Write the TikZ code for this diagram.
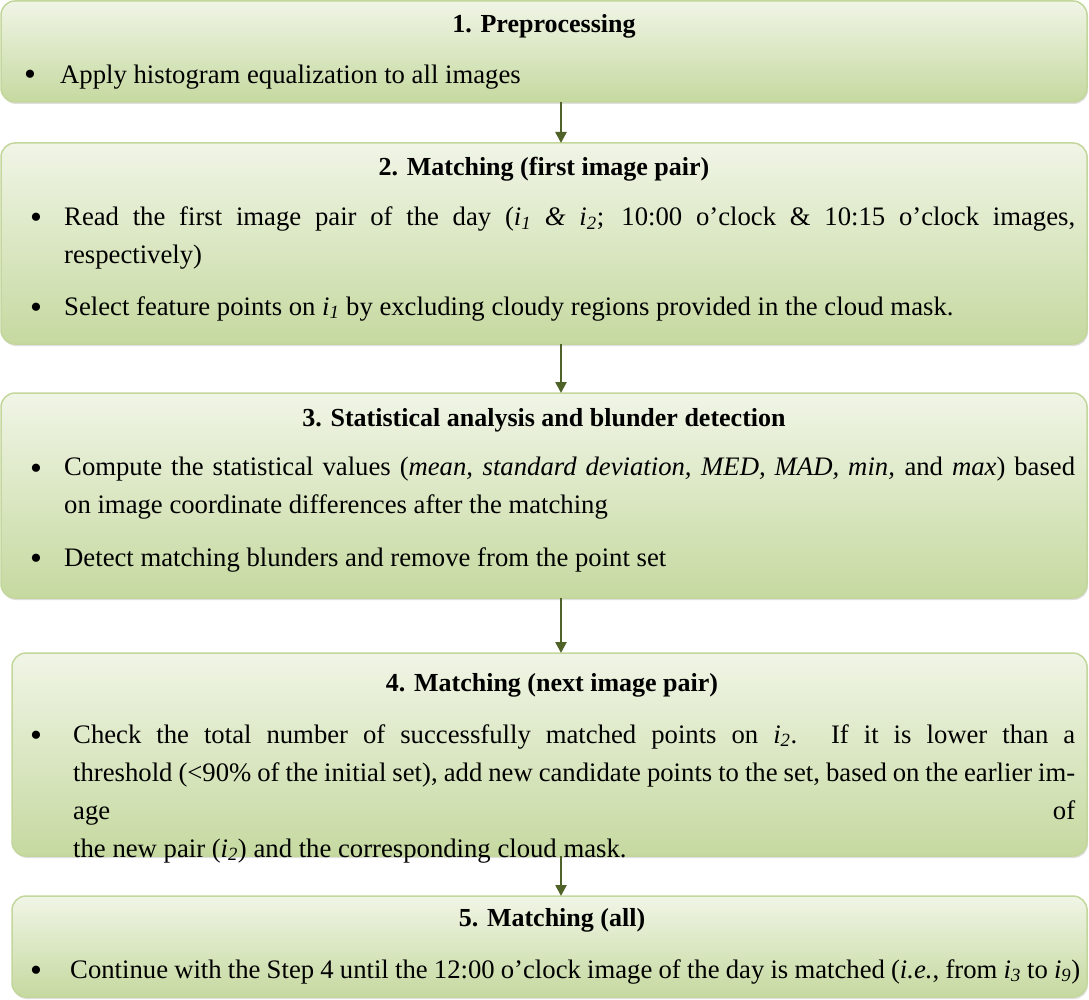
\documentclass[tikz,border=0pt]{standalone}
\usepackage{fontspec}
\setmainfont{Liberation Serif}
\usetikzlibrary{shadows,arrows.meta}
\newcommand{\ii}[1]{\textit{i}\textsubscript{\textit{#1}}}
\definecolor{arrc}{HTML}{4F6228}
\definecolor{topc}{HTML}{F0F5E6}
\definecolor{botc}{HTML}{C6D9A0}
\definecolor{edgec}{HTML}{C3D69B}
\begin{document}
\begin{tikzpicture}[x=1pt,y=-1pt,
  panel/.style={draw=edgec, line width=1.5pt, rounded corners=14pt, top color=topc, bottom color=botc, drop shadow={shadow xshift=1pt, shadow yshift=-2pt, opacity=0.25}},
  ttl/.style={font=\fontsize{26}{38}\selectfont\bfseries, anchor=base},
  txt/.style={font=\fontsize{26.7}{38}\selectfont, anchor=north west, inner sep=0pt, align=justify},
  bul/.style={font=\fontsize{34}{38}\selectfont, anchor=base, inner sep=0pt},
  arr/.style={-{Triangle[length=11pt,width=11pt]}, line width=2.5pt, draw=arrc}]
\useasboundingbox (0,0) rectangle (1089,1000);
\path[panel] (1,1) rectangle (1087,102);
\path[panel] (1,143) rectangle (1087,344);
\path[panel] (1,393) rectangle (1087,598);
\path[panel] (12,653) rectangle (1087,856);
\path[panel] (12,896) rectangle (1087,997);
\coordinate (b1) at (561,102); \coordinate (t2) at (561,143);
\coordinate (b2) at (561,344); \coordinate (t3) at (561,393);
\coordinate (b3) at (561,598); \coordinate (t4) at (561,653);
\coordinate (b4) at (561,856); \coordinate (t5) at (561,896);
\draw[arr] (b1) -- (t2); \draw[arr] (b2) -- (t3); \draw[arr] (b3) -- (t4); \draw[arr] (b4) -- (t5);
% box1
\node[ttl] (h1) at (544,33) {1. Preprocessing};
\node[bul] (u1) at (30,86) {\textbullet};
\node[txt, text width=1000pt] (x1) at (60,65) {Apply histogram equalization to all images};
% box2
\node[ttl] (h2) at (544,176) {2. Matching (first image pair)};
\node[bul] (u2) at (36,229) {\textbullet};
\node[txt, text width=1011pt] (x2) at (64,207) {Read the first image pair of the day (\ii{1} \textit{\&} \ii{2}; 10:00 o’clock \& 10:15 o’clock images,\linebreak respectively)};
\node[bul] (u3) at (36,318) {\textbullet};
\node[txt, text width=1011pt] (x3) at (64,296) {Select feature points on \ii{1} by excluding cloudy regions provided in the cloud mask.};
% box3
\node[ttl] (h3) at (544,426) {3. Statistical analysis and blunder detection};
\node[bul] (u4) at (36,479) {\textbullet};
\node[txt, text width=1011pt] (x4) at (64,457) {Compute the statistical values (\textit{mean, standard deviation, MED, MAD, min,} and \textit{max}) based\linebreak on image coordinate differences after the matching};
\node[bul] (u5) at (36,569) {\textbullet};
\node[txt, text width=1011pt] (x5) at (64,547) {Detect matching blunders and remove from the point set};
% box4
\node[ttl] (h4) at (552,691) {4. Matching (next image pair)};
\node[bul] (u6) at (36,746) {\textbullet};
\node[txt, text width=1002pt] (x6) at (73,724) {Check the total number of successfully matched points on \ii{2}. If it is lower than a\linebreak threshold (<90\% of the initial set), add new candidate points to the set, based on the earlier image of\linebreak the new pair (\ii{2}) and the corresponding cloud mask.};
% box5
\node[ttl] (h5) at (552,926) {5. Matching (all)};
\node[bul] (u7) at (36,981) {\textbullet};
\node[txt, text width=1010pt] (x7) at (70,959) {Continue with the Step 4 until the 12:00 o’clock image of the day is matched (\textit{i.e.}, from \ii{3} to \ii{9})};
\end{tikzpicture}
\end{document}
